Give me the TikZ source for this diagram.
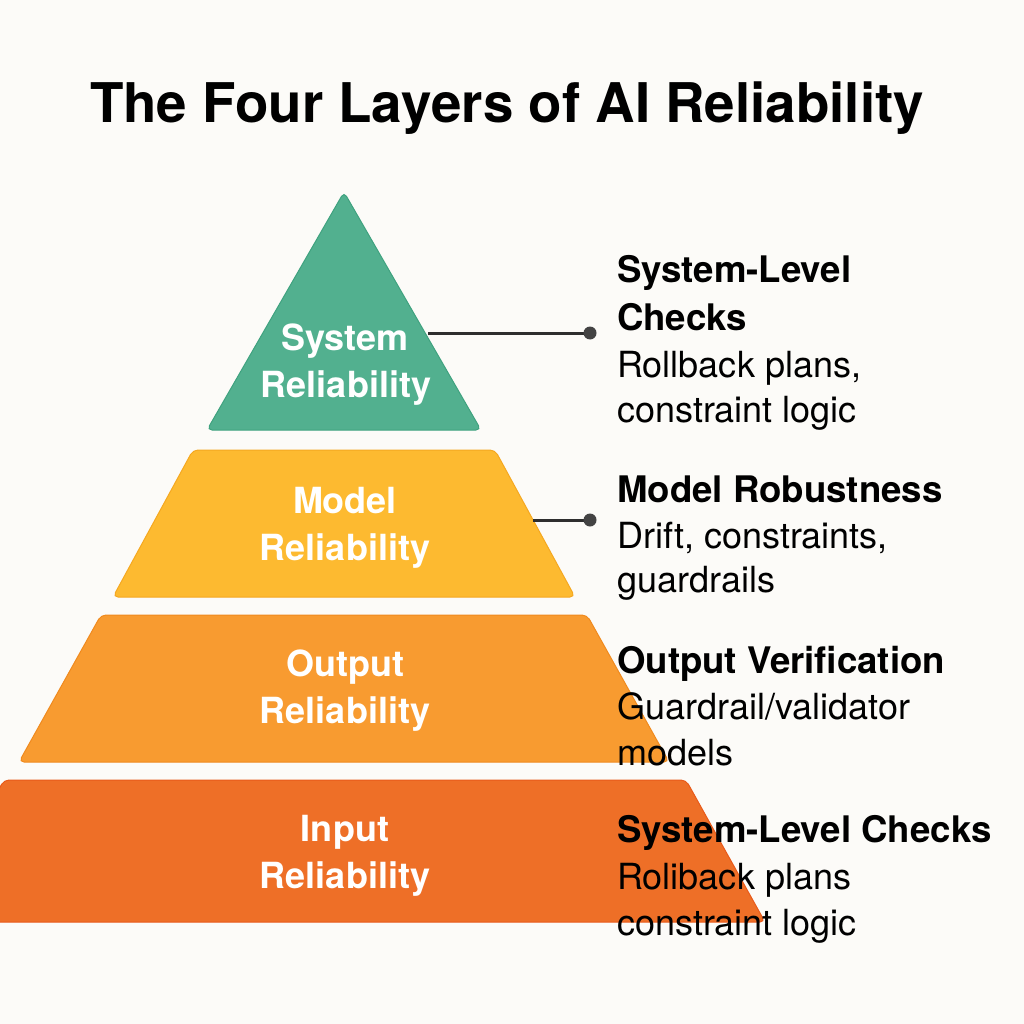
\documentclass[tikz,border=0pt]{standalone}
\usepackage{fontspec}
\setmainfont{TeX Gyre Heros}
\definecolor{bgc}{HTML}{FCFBF8}
\definecolor{cgreen}{HTML}{52B08F}
\definecolor{cgreenE}{HTML}{3FA27F}
\definecolor{cyellow}{HTML}{FDBA30}
\definecolor{cyellowE}{HTML}{F5A820}
\definecolor{corange}{HTML}{F89B30}
\definecolor{corangeE}{HTML}{F08A1E}
\definecolor{cred}{HTML}{EE6F27}
\definecolor{credE}{HTML}{E85A1A}
\definecolor{linkgray}{HTML}{2E2E2E}
\begin{document}
\begin{tikzpicture}[x=1pt,y=-1pt,
  layer/.style={rounded corners=5pt, line width=1pt},
  lbl/.style={text=white, font=\fontsize{36}{40}\selectfont\bfseries, anchor=base, inner sep=0pt},
  ttl/.style={text=black, font=\fontsize{54.7}{60}\selectfont\bfseries, anchor=base, inner sep=0pt},
  head/.style={text=black, font=\fontsize{36.6}{44}\selectfont\bfseries, anchor=base west, inner sep=0pt},
  body/.style={text=black, font=\fontsize{36}{44}\selectfont, anchor=base west, inner sep=0pt},
  link/.style={draw=linkgray, line width=3pt},
  dotnode/.style={circle, fill=linkgray!90!white, minimum size=13pt, inner sep=0pt}]
\fill[bgc] (0,0) rectangle (1024,1024);
\useasboundingbox (0,0) rectangle (1024,1024);

% title
\node[ttl] (title) at (507,123) {The Four Layers of AI Reliability};

% layers
\filldraw[layer, fill=cred, draw=credE] (4,780) -- (686,780) -- (765,922) -- (-75,922) -- cycle;
\filldraw[layer, fill=corange, draw=corangeE] (101,615) -- (587,615) -- (669,762) -- (19,762) -- cycle;
\filldraw[layer, fill=cyellow, draw=cyellowE] (193,450) -- (495,450) -- (575,597) -- (113,597) -- cycle;
\filldraw[layer, fill=cgreen, draw=cgreenE] (344,192) -- (481,430) -- (207,430) -- cycle;

% connectors
\coordinate (e1) at (428,333);
\coordinate (d1c) at (590,333);
\coordinate (e2) at (533,520);
\coordinate (d2c) at (590,520);
\draw[link] (e1) -- (d1c);
\draw[link] (e2) -- (d2c);
\node[dotnode] (d1) at (d1c) {};
\node[dotnode] (d2) at (d2c) {};

% layer labels
\node[lbl] (l1a) at (345,350) {System};
\node[lbl] (l1b) at (346,397) {Reliability};
\node[lbl] (l2a) at (345,513) {Model};
\node[lbl] (l2b) at (345,560) {Reliability};
\node[lbl] (l3a) at (345,676) {Output};
\node[lbl] (l3b) at (345,723) {Reliability};
\node[lbl] (l4a) at (345,841) {Input};
\node[lbl] (l4b) at (345,888) {Reliability};

% right column
\node[head] (h1a) at (617,282) {System-Level};
\node[head] (h1b) at (617,330) {Checks};
\node[body] (b1a) at (617,377) {Rollback plans,};
\node[body] (b1b) at (617,422) {constraint logic};

\node[head] (h2) at (617,502) {Model Robustness};
\node[body] (b2a) at (617,548) {Drift, constraints,};
\node[body] (b2b) at (617,592) {guardrails};

\node[head] (h3) at (617,673) {Output Verification};
\node[body] (b3a) at (617,719) {Guardrail/validator};
\node[body] (b3b) at (617,765) {models};

\node[head] (h4) at (617,842) {System-Level Checks};
\node[body] (b4a) at (617,889) {Roliback plans};
\node[body] (b4b) at (617,935) {constraint logic};
\end{tikzpicture}
\end{document}
